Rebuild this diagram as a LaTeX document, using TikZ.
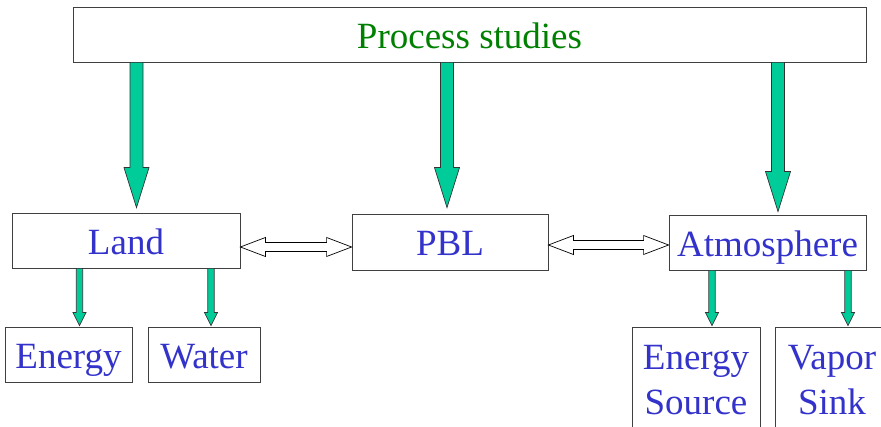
\documentclass[tikz,border=0pt]{standalone}
\usepackage{fontspec}
\setmainfont{Liberation Serif}
\usetikzlibrary{calc}
\definecolor{txtblue}{RGB}{51,51,204}
\definecolor{txtgreen}{RGB}{0,128,0}
\definecolor{arrgreen}{RGB}{0,204,153}
\tikzset{
  box/.style={draw=black!75, line width=0.8pt, fill=white, inner sep=0pt, anchor=center,
    font=\fontsize{37}{44}\selectfont, text=txtblue, align=center,
    text height=30pt, text depth=2pt},
  twoline/.style={text height=70pt, text depth=1pt},
  fatarrow/.style={draw=black!80, line width=0.7pt, fill=arrgreen, line join=miter},
  hollowarrow/.style={draw=black, line width=0.7pt, fill=white, line join=miter}
}
% vertical filled arrow: from node, to node, x, shaft half width, head half width, head length, gap above target
\newcommand\vArrow[7]{%
  \draw[fatarrow] let \p1=(#1.south), \p2=(#2.north), \p3=(#3,0) in
    ({\x3-#4pt},{\y1}) -- ({\x3-#4pt},{\y2+#7pt+#6pt}) -- ({\x3-#5pt},{\y2+#7pt+#6pt})
    -- ({\x3},{\y2+#7pt}) -- ({\x3+#5pt},{\y2+#7pt+#6pt}) -- ({\x3+#4pt},{\y2+#7pt+#6pt})
    -- ({\x3+#4pt},{\y1}) -- cycle;}
% horizontal hollow double arrow: from node, to node, y, shaft half width, head half width, head length
\newcommand\hArrow[6]{%
  \draw[hollowarrow] let \p1=(#1.east), \p2=(#2.west), \p3=(0,#3) in
    ({\x1},{\y3}) -- ({\x1+#6pt},{\y3+#5pt}) -- ({\x1+#6pt},{\y3+#4pt})
    -- ({\x2-#6pt},{\y3+#4pt}) -- ({\x2-#6pt},{\y3+#5pt}) -- ({\x2},{\y3})
    -- ({\x2-#6pt},{\y3-#5pt}) -- ({\x2-#6pt},{\y3-#4pt}) -- ({\x1+#6pt},{\y3-#4pt})
    -- ({\x1+#6pt},{\y3-#5pt}) -- cycle;}
\begin{document}
\begin{tikzpicture}[x=1pt,y=-1pt]
\useasboundingbox (0,0) rectangle (881,427);
\clip (0,0) rectangle (881,427);
\node[box, text=txtgreen, minimum width=793pt, minimum height=55pt] (ps) at (469.5,34.5) {Process studies};
\node[box, minimum width=228pt, minimum height=55pt] (land) at (126,240.5) {Land};
\node[box, minimum width=196pt, minimum height=56pt] (pbl) at (450,242) {PBL};
\node[box, minimum width=197pt, minimum height=55pt] (atm) at (767.5,242.5) {Atmosphere};
\node[box, minimum width=127pt, minimum height=55pt] (en) at (68.5,354.5) {Energy};
\node[box, minimum width=112pt, minimum height=55pt] (wa) at (204,354.5) {Water};
\node[box, twoline, minimum width=128pt, minimum height=105pt] (es) at (696,379.5) {Energy\\Source};
\node[box, twoline, minimum width=114pt, minimum height=105pt] (vs) at (832,379.5) {Vapor\\Sink};
% big arrows
\vArrow{ps}{land}{136.5}{6.5}{12.5}{40}{5}
\vArrow{ps}{pbl}{447}{6.5}{12.5}{40}{6}
\vArrow{ps}{atm}{778}{6.5}{12.5}{40}{3}
% small arrows
\vArrow{land}{en}{79.5}{3.2}{6.5}{13}{1}
\vArrow{land}{wa}{211}{3.2}{6.5}{13}{1}
\vArrow{atm}{es}{712}{3.2}{6.5}{13}{1}
\vArrow{atm}{vs}{848}{3.2}{6.5}{13}{1}
% double arrows
\hArrow{land}{pbl}{247}{4.5}{9.5}{25}
\hArrow{pbl}{atm}{245}{4.5}{9.5}{25}
\end{tikzpicture}
\end{document}
